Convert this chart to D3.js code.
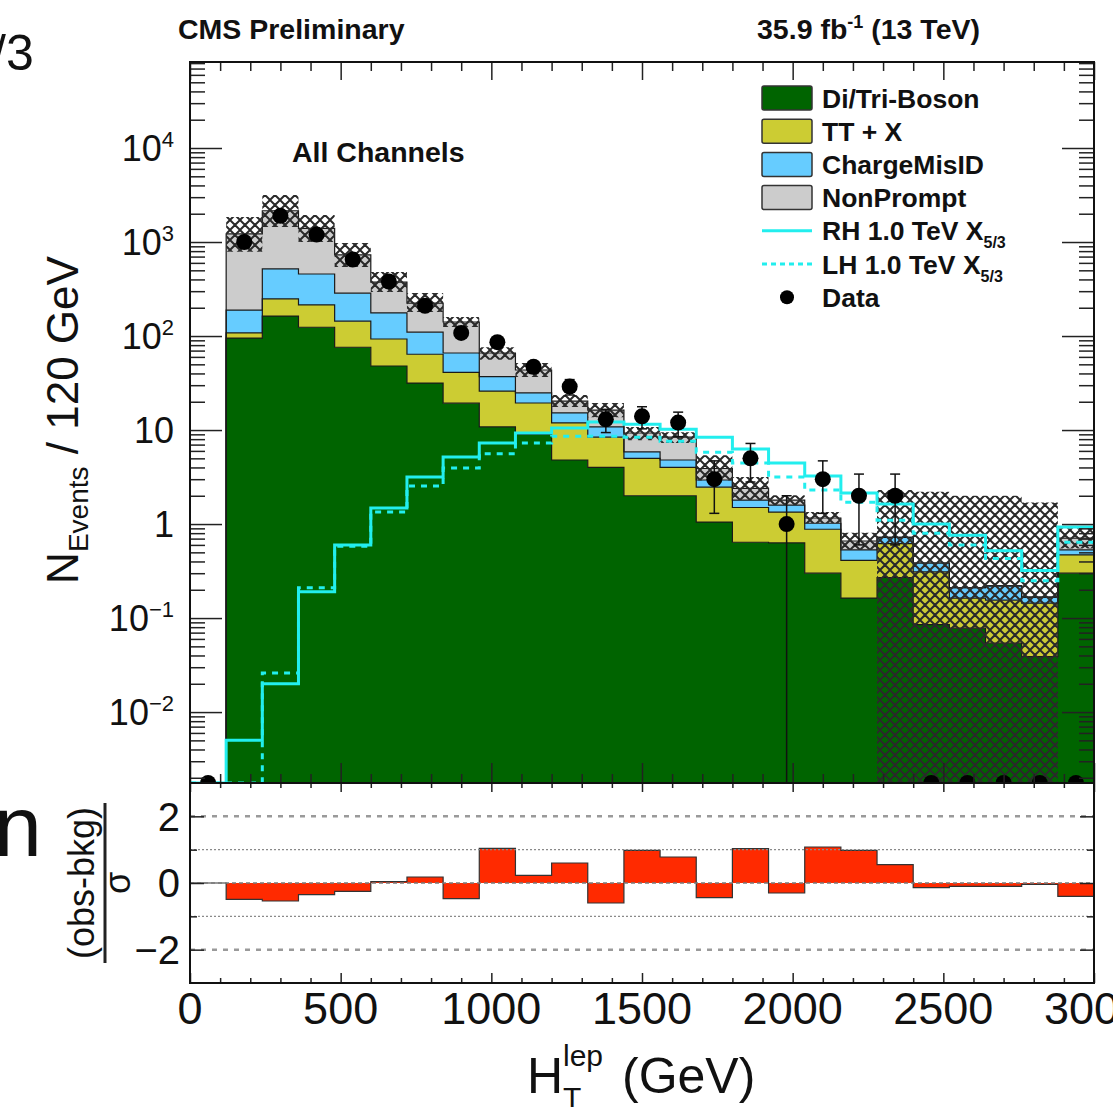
<!DOCTYPE html>
<html>
<head>
<meta charset="utf-8">
<script src="https://cdn.jsdelivr.net/npm/d3@7/dist/d3.min.js"></script>
<style>
    body { margin: 0; background: #fff; }
    text { font-family: 'Liberation Sans', Arial, Helvetica, sans-serif; fill: #111; }
</style>
</head>
<body>
<svg id="chart" width="1113" height="1107"></svg>
<script>
// H_T^lep distribution, 120 GeV bins (lower edges)
let binLow = [0, 120, 240, 360, 480, 600, 720, 840, 960, 1080, 1200, 1320, 1440,
    1560, 1680, 1800, 1920, 2040, 2160, 2280, 2400, 2520, 2640, 2760, 2880];
let binWidth = 120;

// background components (stacked, events per bin)
let diboson = [0, 95, 163, 124, 76, 48, 31.6, 19.3, 10.8, 9.0, 4.8, 4.0, 2.0,
    2.0, 1.05, 0.64, 0.63, 0.30, 0.163, 0.27, 0.085, 0.078, 0.054, 0.039, 0.30];
let ttx = [0, 13, 85, 90, 68, 45, 32.4, 21.7, 15.2, 10.4, 7.1, 4.4, 3.0,
    2.0, 1.42, 0.86, 0.71, 0.58, 0.247, 0.35, 0.225, 0.085, 0.101, 0.105, 0.17];
let chargeMisID = [0, 81, 270, 243, 142, 83, 46, 25, 11, 5.4, 3.3, 2.4, 0.85,
    0.8, 0.47, 0.3, 0.25, 0.14, 0.12, 0.10, 0.075, 0.047, 0.065, 0.023, 0.06];
let nonPrompt = [0, 1031, 1632, 943, 444, 199, 114, 75, 29, 18.7, 5.1, 5.5, 3.45,
    3.6, 0.96, 0.6, 0.21, 0.14, 0.13, 0, 0, 0, 0, 0, 0.18];

// background uncertainty band (hatched)
let bandLow = [0, 787, 1446, 1000, 542, 294, 180, 125, 56, 36.6, 17.6, 13.7, 7.8,
    7.3, 2.9, 1.8, 1.59, 1.02, 0.53, 0, 0, 0, 0, 0, 0.55];
let bandHigh = [0, 1846, 3162, 1937, 978, 480, 287, 159, 76, 51.6, 23.6, 19.4, 10.8,
    9.5, 5.4, 3.16, 2.03, 1.34, 0.81, 2.3, 2.2, 2.0, 2.0, 1.7, 0.9];

// signals
let sigRH = [0, 0.005, 0.02, 0.19, 0.6, 1.48, 3.16, 5.16, 7.3, 9.3, 10.5, 12.2, 11.5,
    10.2, 8.4, 6.3, 4.45, 3.24, 2.14, 1.63, 1.0, 0.76, 0.52, 0.32, 0.93];
let sigLH = [0, 0, 0.026, 0.21, 0.58, 1.34, 2.54, 3.94, 5.6, 7.3, 8.6, 8.6, 8.4,
    7.6, 5.8, 4.45, 3.16, 2.3, 1.71, 1.1, 0.8, 0.6, 0.43, 0.25, 0.64];

// observed data and its error
let dataObs = [0, 1000, 1900, 1200, 650, 380, 210, 108, 86, 47, 29, 13, 14,
    12, 3, 5, 1, 3, 2, 2, 0, 0, 0, 0, 0];
let dataErr = [0, 32, 44, 35, 25, 19, 14.5, 10.4, 9.3, 6.9, 5.4, 3.6, 3.7,
    3.5, 1.7, 2.2, 1, 1.7, 1.4, 1.4, 0, 0, 0, 0, 0];

// (obs-bkg)/sigma
let pull = [0, -0.49, -0.54, -0.35, -0.25, 0.04, 0.18, -0.47, 1.04, 0.23, 0.6, -0.6, 0.98,
    0.78, -0.44, 1.03, -0.3, 1.08, 0.98, 0.55, -0.14, -0.1, -0.1, -0.04, -0.4];

let legendLabels = ['Di/Tri-Boson', 'TT + X', 'ChargeMisID', 'NonPrompt', 'RH 1.0 TeV X', 'LH 1.0 TeV X', 'Data'];
let bkgKeys = ['diboson', 'ttx', 'chargeMisID', 'nonPrompt'];
let bkgColors = ['#006400', '#cccc33', '#66ccff', '#cccccc'];
let sigColor = '#22eeee';
let pullColor = '#ff2a00';

let svg = d3.select('#chart');

let x = d3.scaleLinear().domain([0, 3000]).range([190, 1094]);
let y = d3.scaleLog().domain([0.00176, 82200]).range([783, 62]).clamp(true);
let yr = d3.scaleLinear().domain([-3, 3]).range([983, 783]);

let plotLeft = x.range()[0], plotRight = x.range()[1];
let plotTop = y.range()[1], plotMid = y.range()[0], plotBottom = yr.range()[0];

function yv(v) {
    return v > 0 ? y(v) : plotMid;
}

// points for step curves, last bin repeated at the upper edge
function steps(lo, hi) {
    let pts = binLow.map((b, i) => ({ x: b, lo: lo[i], hi: hi[i] }));
    let n = binLow.length - 1;
    pts.push({ x: binLow[n] + binWidth, lo: lo[n], hi: hi[n] });
    return pts;
}

let defs = svg.append('defs');
defs.append('clipPath').attr('id', 'clipMain')
    .append('rect').attr('x', plotLeft).attr('y', plotTop)
    .attr('width', plotRight - plotLeft).attr('height', plotMid - plotTop);
defs.append('clipPath').attr('id', 'clipRatio')
    .append('rect').attr('x', plotLeft).attr('y', plotMid)
    .attr('width', plotRight - plotLeft).attr('height', plotBottom - plotMid);

let hatch = defs.append('pattern').attr('id', 'hatch')
    .attr('patternUnits', 'userSpaceOnUse').attr('width', 10).attr('height', 10);
hatch.append('path').attr('d', 'M0,0L10,10M10,0L0,10M-5,5L5,15M5,-5L15,5M-5,5L5,-5M5,15L15,5')
    .attr('stroke', '#2a2a2a').attr('stroke-width', 2).attr('fill', 'none');

// ---------- main panel ----------
let main = svg.append('g').attr('clip-path', 'url(#clipMain)');

let rows = binLow.map((b, i) => ({
    diboson: diboson[i], ttx: ttx[i], chargeMisID: chargeMisID[i], nonPrompt: nonPrompt[i]
}));
let stacked = d3.stack().keys(bkgKeys)(rows);

let area = d3.area()
    .curve(d3.curveStepAfter)
    .x(d => x(d.x))
    .y0(d => yv(d.lo))
    .y1(d => yv(d.hi));

let stepLine = d3.line()
    .curve(d3.curveStepAfter)
    .x(d => x(d.x))
    .y(d => yv(d.hi));

stacked.forEach((layer, k) => {
    let pts = steps(layer.map(d => d[0]), layer.map(d => d[1]));
    main.append('path').attr('d', area(pts)).attr('fill', bkgColors[k]);
});
stacked.forEach(layer => {
    let pts = steps(layer.map(d => d[0]), layer.map(d => d[1]));
    main.append('path').attr('d', stepLine(pts))
        .attr('fill', 'none').attr('stroke', '#1a1a1a').attr('stroke-width', 1.2);
});

// uncertainty band
main.append('path')
    .attr('d', area(steps(bandLow, bandHigh)))
    .attr('fill', 'url(#hatch)');

// signals
main.append('path')
    .attr('d', stepLine(steps(sigLH, sigLH)))
    .attr('fill', 'none').attr('stroke', sigColor).attr('stroke-width', 3)
    .attr('stroke-dasharray', '6,6');
main.append('path')
    .attr('d', stepLine(steps(sigRH, sigRH)))
    .attr('fill', 'none').attr('stroke', sigColor).attr('stroke-width', 3);

// data
let pts = binLow.map((b, i) => ({ x: b + binWidth / 2, v: dataObs[i], e: dataErr[i] }));
let bars = main.selectAll('.err').data(pts.filter(d => d.v > 0)).enter().append('g');
bars.append('line')
    .attr('x1', d => x(d.x)).attr('x2', d => x(d.x))
    .attr('y1', d => yv(d.v - d.e)).attr('y2', d => yv(d.v + d.e))
    .attr('stroke', '#111').attr('stroke-width', 1.5);
bars.append('line')
    .attr('x1', d => x(d.x) - 5).attr('x2', d => x(d.x) + 5)
    .attr('y1', d => yv(d.v + d.e)).attr('y2', d => yv(d.v + d.e))
    .attr('stroke', '#111').attr('stroke-width', 1.5);
bars.filter(d => d.v - d.e > 0).append('line')
    .attr('x1', d => x(d.x) - 5).attr('x2', d => x(d.x) + 5)
    .attr('y1', d => yv(d.v - d.e)).attr('y2', d => yv(d.v - d.e))
    .attr('stroke', '#111').attr('stroke-width', 1.5);
main.selectAll('.dot').data(pts).enter().append('circle')
    .attr('cx', d => x(d.x)).attr('cy', d => yv(d.v)).attr('r', 8).attr('fill', '#000');

// ---------- ratio panel ----------
let ratio = svg.append('g').attr('clip-path', 'url(#clipRatio)');
let zeros = pull.map(() => 0);
let pullArea = d3.area()
    .curve(d3.curveStepAfter)
    .x(d => x(d.x))
    .y0(d => yr(d.lo))
    .y1(d => yr(d.hi));
let pullLine = d3.line()
    .curve(d3.curveStepAfter)
    .x(d => x(d.x))
    .y(d => yr(d.hi));
ratio.append('path').attr('d', pullArea(steps(zeros, pull))).attr('fill', pullColor);
ratio.append('path').attr('d', pullLine(steps(zeros, pull)))
    .attr('fill', 'none').attr('stroke', '#333').attr('stroke-width', 1.2);

let gridStyles = [
    { v: 2, dash: '5,6', w: 2.5, c: '#9a9a9a' },
    { v: -2, dash: '5,6', w: 2.5, c: '#9a9a9a' },
    { v: 1, dash: '2,2', w: 1.2, c: '#8a8a8a' },
    { v: -1, dash: '2,2', w: 1.2, c: '#8a8a8a' },
    { v: 0, dash: '4,3', w: 1.5, c: '#7a7a7a' }
];
ratio.selectAll('.grid').data(gridStyles).enter().append('line')
    .attr('x1', plotLeft).attr('x2', plotRight)
    .attr('y1', d => yr(d.v)).attr('y2', d => yr(d.v))
    .attr('stroke', d => d.c).attr('stroke-width', d => d.w).attr('stroke-dasharray', d => d.dash);

// ---------- axes (ticks inside, ROOT style) ----------
let xMajor = d3.range(0, 3001, 500);
let xMinor = d3.range(0, 3001, 100).filter(v => v % 500 !== 0);
let yMajor = y.ticks().filter(v => Math.abs(Math.log10(v) - Math.round(Math.log10(v))) < 1e-6);
let yMinor = y.ticks().filter(v => yMajor.indexOf(v) < 0);

function drawAxis(axis, tx, ty) {
    let g = svg.append('g').attr('transform', 'translate(' + tx + ',' + ty + ')').call(axis);
    g.select('.domain').remove();
    g.selectAll('line').attr('stroke', '#222').attr('stroke-width', 1.5);
    g.selectAll('text').remove();
    return g;
}

drawAxis(d3.axisTop(x).tickValues(xMajor).tickSize(-18), 0, plotTop);
drawAxis(d3.axisTop(x).tickValues(xMinor).tickSize(-9), 0, plotTop);
drawAxis(d3.axisBottom(x).tickValues(xMajor).tickSize(-20), 0, plotMid);
drawAxis(d3.axisBottom(x).tickValues(xMinor).tickSize(-9), 0, plotMid);
drawAxis(d3.axisTop(x).tickValues(xMajor).tickSize(-9), 0, plotMid);
drawAxis(d3.axisTop(x).tickValues(xMinor).tickSize(-5), 0, plotMid);
drawAxis(d3.axisBottom(x).tickValues(xMajor).tickSize(-10), 0, plotBottom);
drawAxis(d3.axisBottom(x).tickValues(xMinor).tickSize(-5), 0, plotBottom);

drawAxis(d3.axisLeft(y).tickValues(yMajor).tickSize(-32), plotLeft, 0);
drawAxis(d3.axisLeft(y).tickValues(yMinor).tickSize(-15), plotLeft, 0);
drawAxis(d3.axisRight(y).tickValues(yMajor).tickSize(-32), plotRight, 0);
drawAxis(d3.axisRight(y).tickValues(yMinor).tickSize(-15), plotRight, 0);

drawAxis(d3.axisLeft(yr).tickValues([-2, 0, 2]).tickSize(-14), plotLeft, 0);
drawAxis(d3.axisLeft(yr).tickValues([-1, 1]).tickSize(-7), plotLeft, 0);
drawAxis(d3.axisRight(yr).tickValues([-2, 0, 2]).tickSize(-14), plotRight, 0);
drawAxis(d3.axisRight(yr).tickValues([-1, 1]).tickSize(-7), plotRight, 0);

// frames
svg.append('rect').attr('x', plotLeft).attr('y', plotTop)
    .attr('width', plotRight - plotLeft).attr('height', plotMid - plotTop)
    .attr('fill', 'none').attr('stroke', '#111').attr('stroke-width', 2);
svg.append('rect').attr('x', plotLeft).attr('y', plotMid)
    .attr('width', plotRight - plotLeft).attr('height', plotBottom - plotMid)
    .attr('fill', 'none').attr('stroke', '#111').attr('stroke-width', 2);

// tick labels
svg.selectAll('.xlab').data(xMajor).enter().append('text')
    .attr('x', d => x(d)).attr('y', plotBottom + 41)
    .attr('text-anchor', 'middle').style('font-size', '45px')
    .text(d => d);

yMajor.forEach(v => {
    let k = Math.round(Math.log10(v));
    let t = svg.append('text').attr('x', 174).attr('y', y(v)).attr('dy', '0.36em')
        .attr('text-anchor', 'end').style('font-size', '36px');
    if (k === 0) t.text('1');
    else if (k === 1) t.text('10');
    else {
        t.append('tspan').text('10');
        t.append('tspan').attr('dy', -14).style('font-size', '22px')
            .text(k < 0 ? '\u2212' + (-k) : k);
    }
});

svg.selectAll('.rlab').data([2, 0, -2]).enter().append('text')
    .attr('x', 180).attr('y', d => yr(d)).attr('dy', '0.36em')
    .attr('text-anchor', 'end').style('font-size', '40px')
    .text(d => (d < 0 ? '\u2212' + (-d) : d));

// axis titles
let cx = (plotLeft + plotRight) / 2;
svg.append('text').attr('x', cx - 115).attr('y', 1093).style('font-size', '50px').text('H');
svg.append('text').attr('x', cx - 79).attr('y', 1108).style('font-size', '30px').text('T');
svg.append('text').attr('x', cx - 79).attr('y', 1066).style('font-size', '30px').text('lep');
svg.append('text').attr('x', cx - 20).attr('y', 1093).style('font-size', '50px').text('(GeV)');

let yTitle = svg.append('text')
    .attr('transform', 'translate(78,' + 420 + ') rotate(-90)')
    .attr('text-anchor', 'middle').style('font-size', '44px');
yTitle.append('tspan').text('N');
yTitle.append('tspan').attr('dy', 10).style('font-size', '28px').text('Events');
yTitle.append('tspan').attr('dy', -10).text(' / 120 GeV');

let rTitle = svg.append('g').attr('transform', 'translate(96,' + yr(0) + ') rotate(-90)');
rTitle.append('text').attr('x', 0).attr('y', -2).attr('text-anchor', 'middle')
    .style('font-size', '36px').text('(obs-bkg)');
rTitle.append('line').attr('x1', -80).attr('x2', 80).attr('y1', 9).attr('y2', 9)
    .attr('stroke', '#222').attr('stroke-width', 3);
rTitle.append('text').attr('x', 0).attr('y', 34).attr('text-anchor', 'middle')
    .style('font-size', '36px').text('\u03c3');

// header texts
svg.append('text').attr('x', 178).attr('y', 39).style('font-size', '28.5px').style('font-weight', 'bold')
    .text('CMS Preliminary');
let lumi = svg.append('text').attr('x', 980).attr('y', 39).attr('text-anchor', 'end')
    .style('font-size', '28.5px').style('font-weight', 'bold');
lumi.append('tspan').text('35.9 fb');
lumi.append('tspan').attr('dy', -11).style('font-size', '18px').text('-1');
lumi.append('tspan').attr('dy', 11).text(' (13 TeV)');
svg.append('text').attr('x', 292).attr('y', 162).style('font-size', '28.5px').style('font-weight', 'bold')
    .text('All Channels');

// neighbouring page fragments
svg.append('text').attr('x', -8).attr('y', 70).style('font-size', '50px').text('/3');
svg.append('text').attr('x', -6).attr('y', 856).style('font-size', '86px').text('n');

// ---------- legend ----------
let legend = svg.append('g').attr('transform', 'translate(762,98)');
legendLabels.forEach((label, i) => {
    let row = legend.append('g').attr('transform', 'translate(0,' + i * 33.2 + ')');
    if (i < 4) {
        row.append('rect').attr('x', 0).attr('y', -12).attr('width', 50).attr('height', 24)
            .attr('rx', 2).attr('fill', bkgColors[i]).attr('stroke', '#333').attr('stroke-width', 1.5);
    } else if (i < 6) {
        row.append('line').attr('x1', 0).attr('x2', 50).attr('y1', 0).attr('y2', 0)
            .attr('stroke', sigColor).attr('stroke-width', 3)
            .attr('stroke-dasharray', i === 5 ? '5,4' : null);
    } else {
        row.append('circle').attr('cx', 25).attr('cy', 0).attr('r', 7).attr('fill', '#000');
    }
    let t = row.append('text').attr('x', 60).attr('y', 0).attr('dy', '0.36em')
        .style('font-size', '26.5px').style('font-weight', 'bold');
    t.append('tspan').text(label);
    if (i === 4 || i === 5) {
        t.append('tspan').attr('dy', 8).style('font-size', '16px').text('5/3');
    }
});
</script>
</body>
</html>
